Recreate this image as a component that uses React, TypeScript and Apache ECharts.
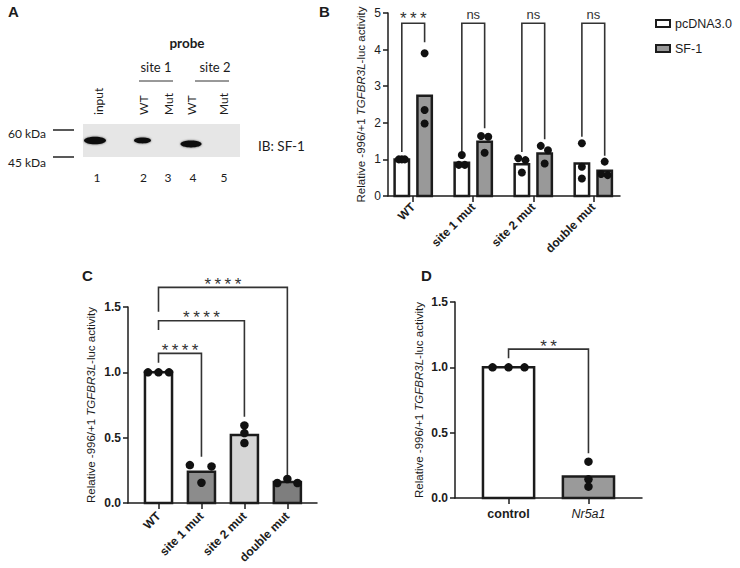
import React, { useEffect, useRef } from 'react';
import * as echarts from 'echarts';

// ---------- Panel B data ----------
const B_CATS = ['WT', 'site 1 mut', 'site 2 mut', 'double mut'];
const B_PC_MEAN = [1.0, 0.91, 0.87, 0.89];
const B_SF_MEAN = [2.74, 1.48, 1.16, 0.69];
const B_PC_PTS = [[1.0, 1.0, 1.0], [1.12, 0.85, 0.85], [1.03, 0.98, 0.64], [1.44, 0.8, 0.48]];
const B_SF_PTS = [[3.9, 2.35, 1.98], [1.64, 1.62, 1.18], [1.37, 1.25, 0.89], [0.94, 0.6, 0.57]];
const B_SIG = ['*\u2009*\u2009*', 'ns', 'ns', 'ns'];
const B_SIG_LEFT = [1.2, 1.2, 1.2, 1.62];
const B_SIG_TOP = [4.72, 4.72, 4.72, 4.72];
const B_SIG_RIGHT = [4.2, 1.85, 1.55, 1.1];
const B_SIG_LABEL = 4.96;

// ---------- Panel C data ----------
const C_CATS = ['WT', 'site 1 mut', 'site 2 mut', 'double mut'];
const C_MEAN = [1.0, 0.24, 0.52, 0.16];
const C_PTS = [[1.0, 1.0, 1.0], [0.29, 0.28, 0.155], [0.594, 0.535, 0.459], [0.153, 0.184, 0.153]];
const C_SIG = ['*\u2009*\u2009*\u2009*', '*\u2009*\u2009*\u2009*', '*\u2009*\u2009*\u2009*'];
const C_SIG_TARGET = [1, 2, 3];
const C_SIG_LEFT = [1.073, 1.324, 1.464];
const C_SIG_TOP = [1.145, 1.395, 1.65];
const C_SIG_RIGHT = [0.354, 0.66, 0.189];
const C_SIG_LABEL = [1.2, 1.452, 1.705];

// ---------- Panel D data ----------
const D_CATS = ['control', 'Nr5a1'];
const D_MEAN = [1.0, 0.165];
const D_PTS = [[1.0, 1.0, 1.0], [0.278, 0.143, 0.087]];
const D_SIG = '*\u2009*';
const D_SIG_LEFT = 1.07;
const D_SIG_TOP = 1.139;
const D_SIG_RIGHT = 0.342;
const D_SIG_LABEL = 1.19;

// ---------- layout / style (not data) ----------
const B_OFF = 0.19;
const B_PC_JIT = [[-0.05, 0, 0.05], [0, -0.05, 0.05], [-0.06, 0.06, 0], [0, 0, 0]];
const B_SF_JIT = [[0, 0, 0], [-0.06, 0.06, 0], [-0.065, 0.055, 0], [0, -0.06, 0.05]];
const C_JIT = [[-0.245, 0, 0.245], [-0.27, 0.235, 0], [0, 0, 0], [-0.235, 0, 0.235]];
const D_JIT = [[-0.2, 0, 0.2], [0, 0, 0]];
const C_COLORS = ['#ffffff', '#8c8c8c', '#d6d6d6', '#7e7e7e'];
const D_COLORS = ['#ffffff', '#9a9a9a'];
const FF = '"Liberation Sans", Arial, sans-serif';
const FA = 'Lato, "Open Sans", sans-serif';
const INK = '#1c1c1c';

function barRender(widthUnits: number, colorOf: (i: number) => string) {
  return (params: any, api: any) => {
    const x = api.value(0);
    const y = api.value(1);
    const p = api.coord([x, y]);
    const b = api.coord([x, 0]);
    const w = api.size([widthUnits, 0])[0];
    return {
      type: 'rect',
      shape: { x: p[0] - w / 2, y: p[1], width: w, height: b[1] - p[1] },
      style: { fill: colorOf(params.dataIndex), stroke: INK, lineWidth: 2.5 },
    };
  };
}

function bracketRender(texts: string[]) {
  return (params: any, api: any) => {
    const xl = api.value(0), xr = api.value(1);
    const yl = api.value(2), yt = api.value(3), yr = api.value(4), yLab = api.value(5);
    const a = api.coord([xl, yl]);
    const b = api.coord([xl, yt]);
    const c = api.coord([xr, yt]);
    const d = api.coord([xr, yr]);
    const t = api.coord([(xl + xr) / 2, yLab]);
    const txt = texts[params.dataIndex];
    const isStar = txt.indexOf('*') >= 0;
    return {
      type: 'group',
      children: [
        { type: 'polyline', shape: { points: [a, b, c, d] }, style: { stroke: '#333', lineWidth: 1.6, fill: null } },
        {
          type: 'text', x: t[0], y: t[1] + (isStar ? 4 : 0),
          style: { text: txt, align: 'center', verticalAlign: 'middle', fontSize: isStar ? 17 : 13, fontFamily: FF, fill: '#333' },
        },
      ],
    };
  };
}

const yName = (size: number) => ({
  name: '{n|Relative -996/+1 }{i|TGFBR3L}{n|-luc activity}',
  nameLocation: 'middle',
  nameRotate: 90,
  nameTextStyle: {
    rich: {
      n: { fontSize: size, color: INK, fontFamily: FF },
      i: { fontSize: size, color: INK, fontFamily: FF, fontStyle: 'italic' },
    },
  },
});

const axisLineStyle = { color: INK, width: 1.5 };

function buildOption() {
  const bPcBars = B_PC_MEAN.map((v, i) => [i - B_OFF, v]);
  const bSfBars = B_SF_MEAN.map((v, i) => [i + B_OFF, v]);
  const bPts: number[][] = [];
  B_PC_PTS.forEach((arr, i) => arr.forEach((v, k) => bPts.push([i - B_OFF + B_PC_JIT[i][k], v])));
  B_SF_PTS.forEach((arr, i) => arr.forEach((v, k) => bPts.push([i + B_OFF + B_SF_JIT[i][k], v])));
  const bBr = B_CATS.map((_, i) => [i - B_OFF, i + B_OFF, B_SIG_LEFT[i], B_SIG_TOP[i], B_SIG_RIGHT[i], B_SIG_LABEL]);

  const cBars = C_MEAN.map((v, i) => [i, v]);
  const cPts: number[][] = [];
  C_PTS.forEach((arr, i) => arr.forEach((v, k) => cPts.push([i + C_JIT[i][k], v])));
  const cBr = C_SIG_TARGET.map((t, j) => [0, t, C_SIG_LEFT[j], C_SIG_TOP[j], C_SIG_RIGHT[j], C_SIG_LABEL[j]]);

  const dBars = D_MEAN.map((v, i) => [i, v]);
  const dPts: number[][] = [];
  D_PTS.forEach((arr, i) => arr.forEach((v, k) => dPts.push([i + D_JIT[i][k], v])));
  const dBr = [[0, 1, D_SIG_LEFT, D_SIG_TOP, D_SIG_RIGHT, D_SIG_LABEL]];

  const xCommon = (idx: number, min: number, max: number, cats: string[], fontSize: number, rotate: number, margin: number, rich?: any, fmt?: any) => ({
    gridIndex: idx,
    type: 'value',
    min, max,
    axisLine: { show: true, onZero: false, lineStyle: axisLineStyle },
    axisTick: { show: true, length: 6, customValues: cats.map((_, i) => i), lineStyle: axisLineStyle },
    axisLabel: {
      customValues: cats.map((_, i) => i),
      formatter: fmt || ((v: number) => cats[Math.round(v)]),
      rotate,
      fontSize,
      fontWeight: 'bold',
      color: INK,
      fontFamily: FF,
      margin,
      rich,
    },
    splitLine: { show: false },
  });

  const yCommon = (idx: number, max: number, interval: number, bold: boolean, gap: number, fmt: any) => ({
    gridIndex: idx,
    type: 'value',
    min: 0, max, interval,
    axisLine: { show: true, onZero: false, lineStyle: axisLineStyle },
    axisTick: { show: true, length: 5, lineStyle: axisLineStyle },
    axisLabel: { fontSize: 12, fontWeight: bold ? 'bold' : 'normal', color: INK, fontFamily: FF, margin: 7, formatter: fmt },
    splitLine: { show: false },
    nameGap: gap,
    ...yName(11.5),
  });

  const graphic: any[] = [
    // panel letters
    { type: 'text', x: 8, y: 11, style: { text: 'A', fontSize: 15, fontWeight: 'bold', fontFamily: FF, fill: INK, verticalAlign: 'middle' } },
    { type: 'text', x: 319, y: 11, style: { text: 'B', fontSize: 15, fontWeight: 'bold', fontFamily: FF, fill: INK, verticalAlign: 'middle' } },
    { type: 'text', x: 82, y: 275, style: { text: 'C', fontSize: 15, fontWeight: 'bold', fontFamily: FF, fill: INK, verticalAlign: 'middle' } },
    { type: 'text', x: 421, y: 275, style: { text: 'D', fontSize: 15, fontWeight: 'bold', fontFamily: FF, fill: INK, verticalAlign: 'middle' } },
    // panel A: western blot
    { type: 'text', x: 187, y: 43, style: { text: 'probe', fontSize: 13.5, fontWeight: 'bold', fontFamily: FA, fill: INK, align: 'center', verticalAlign: 'middle' } },
    { type: 'text', x: 156, y: 67, style: { text: 'site 1', fontSize: 13, fontFamily: FA, fill: INK, align: 'center', verticalAlign: 'middle' } },
    { type: 'text', x: 215, y: 67, style: { text: 'site 2', fontSize: 13, fontFamily: FA, fill: INK, align: 'center', verticalAlign: 'middle' } },
    { type: 'line', shape: { x1: 139, y1: 81, x2: 173, y2: 81 }, style: { stroke: '#333', lineWidth: 1 } },
    { type: 'line', shape: { x1: 195, y1: 81, x2: 229, y2: 81 }, style: { stroke: '#333', lineWidth: 1 } },
    ...[['input', 98], ['WT', 143.5], ['Mut', 168.5], ['WT', 191], ['Mut', 223]].map(([t, x]) => ({
      type: 'text', x: x as number, y: 115, rotation: Math.PI / 2,
      style: { text: t as string, fontSize: 12, fontFamily: FA, fill: INK, align: 'left', verticalAlign: 'middle' },
    })),
    { type: 'rect', shape: { x: 83, y: 124, width: 157, height: 33 }, style: { fill: '#e6e6e6' } },
    { type: 'ellipse', shape: { cx: 95, cy: 140.5, rx: 11, ry: 3.8 }, style: { fill: '#0e0e0e', shadowBlur: 2, shadowColor: 'rgba(0,0,0,0.6)' } },
    { type: 'ellipse', shape: { cx: 142.5, cy: 140.5, rx: 8.5, ry: 2.9 }, style: { fill: '#111', shadowBlur: 2, shadowColor: 'rgba(0,0,0,0.6)' } },
    { type: 'ellipse', shape: { cx: 191, cy: 144, rx: 10.5, ry: 3.4 }, style: { fill: '#0e0e0e', shadowBlur: 2, shadowColor: 'rgba(0,0,0,0.6)' } },
    { type: 'line', shape: { x1: 53, y1: 130, x2: 74, y2: 130 }, style: { stroke: '#222', lineWidth: 1.5 } },
    { type: 'line', shape: { x1: 53, y1: 157, x2: 74, y2: 157 }, style: { stroke: '#222', lineWidth: 1.5 } },
    { type: 'text', x: 8, y: 133, style: { text: '60 kDa', fontSize: 12, fontFamily: FA, fill: INK, verticalAlign: 'middle' } },
    { type: 'text', x: 8, y: 162, style: { text: '45 kDa', fontSize: 12, fontFamily: FA, fill: INK, verticalAlign: 'middle' } },
    { type: 'text', x: 258, y: 146, style: { text: 'IB: SF-1', fontSize: 13.5, fontFamily: FA, fill: INK, verticalAlign: 'middle' } },
    ...[['1', 97], ['2', 143.5], ['3', 168], ['4', 193], ['5', 224]].map(([t, x]) => ({
      type: 'text', x: x as number, y: 177,
      style: { text: t as string, fontSize: 12, fontFamily: FA, fill: INK, align: 'center', verticalAlign: 'middle' },
    })),
  ];

  return {
    animation: false,
    backgroundColor: '#ffffff',
    textStyle: { fontFamily: FF },
    grid: [
      { left: 388, top: 13, width: 232, height: 183 },
      { left: 128, top: 307, width: 189, height: 196 },
      { left: 455, top: 302, width: 187, height: 196 },
    ],
    legend: {
      orient: 'vertical',
      left: 655,
      top: 17,
      padding: 0,
      itemWidth: 14,
      itemHeight: 7,
      itemGap: 12,
      selectedMode: false,
      textStyle: { fontSize: 12.5, color: INK, fontFamily: FF },
      data: [
        { name: 'pcDNA3.0', icon: 'rect', itemStyle: { color: '#ffffff', borderColor: INK, borderWidth: 2 } },
        { name: 'SF-1', icon: 'rect', itemStyle: { color: '#999999', borderColor: INK, borderWidth: 2 } },
      ],
    },
    xAxis: [
      xCommon(0, -0.42, 3.445, B_CATS, 12, 45, 9),
      xCommon(1, -0.71, 3.69, C_CATS, 12, 45, 11),
      xCommon(2, -0.67, 1.67, D_CATS, 12, 0, 9,
        {
          b: { fontSize: 12.5, fontWeight: 'bold', color: INK, fontFamily: FF },
          i: { fontSize: 12.5, fontWeight: 'normal', fontStyle: 'italic', color: INK, fontFamily: FF },
        },
        (v: number) => (Math.round(v) === 0 ? '{b|' + D_CATS[0] + '}' : '{i|' + D_CATS[1] + '}')),
    ],
    yAxis: [
      yCommon(0, 5, 1, false, 21, (v: number) => String(v)),
      yCommon(1, 1.5, 0.5, true, 31, (v: number) => v.toFixed(1)),
      yCommon(2, 1.5, 0.5, true, 30, (v: number) => v.toFixed(1)),
    ],
    series: [
      { type: 'custom', name: 'pcDNA3.0', xAxisIndex: 0, yAxisIndex: 0, data: bPcBars, encode: { x: 0, y: 1 }, clip: false, renderItem: barRender(0.24, () => '#ffffff') },
      { type: 'custom', name: 'SF-1', xAxisIndex: 0, yAxisIndex: 0, data: bSfBars, encode: { x: 0, y: 1 }, clip: false, renderItem: barRender(0.24, () => '#999999') },
      { type: 'scatter', name: 'B points', xAxisIndex: 0, yAxisIndex: 0, data: bPts, symbolSize: 8, itemStyle: { color: '#111', opacity: 1 }, z: 5 },
      { type: 'custom', name: 'B sig', xAxisIndex: 0, yAxisIndex: 0, data: bBr, encode: { x: [0, 1], y: [2, 3, 4, 5] }, clip: false, renderItem: bracketRender(B_SIG) },

      { type: 'custom', name: 'C bars', xAxisIndex: 1, yAxisIndex: 1, data: cBars, encode: { x: 0, y: 1 }, clip: false, renderItem: barRender(0.63, (i) => C_COLORS[i]) },
      { type: 'scatter', name: 'C points', xAxisIndex: 1, yAxisIndex: 1, data: cPts, symbolSize: 8.5, itemStyle: { color: '#111', opacity: 1 }, z: 5 },
      { type: 'custom', name: 'C sig', xAxisIndex: 1, yAxisIndex: 1, data: cBr, encode: { x: [0, 1], y: [2, 3, 4, 5] }, clip: false, renderItem: bracketRender(C_SIG) },

      { type: 'custom', name: 'D bars', xAxisIndex: 2, yAxisIndex: 2, data: dBars, encode: { x: 0, y: 1 }, clip: false, renderItem: barRender(0.64, (i) => D_COLORS[i]) },
      { type: 'scatter', name: 'D points', xAxisIndex: 2, yAxisIndex: 2, data: dPts, symbolSize: 8.5, itemStyle: { color: '#111', opacity: 1 }, z: 5 },
      { type: 'custom', name: 'D sig', xAxisIndex: 2, yAxisIndex: 2, data: dBr, encode: { x: [0, 1], y: [2, 3, 4, 5] }, clip: false, renderItem: bracketRender([D_SIG]) },
    ],
    graphic,
  };
}

export default function App() {
  const ref = useRef<HTMLDivElement>(null);
  useEffect(() => {
    if (!ref.current) return;
    const chart = echarts.init(ref.current, null, { renderer: 'svg', width: 740, height: 568 });
    chart.setOption(buildOption() as any);
    return () => chart.dispose();
  }, []);
  return (
    <div
      ref={ref}
      style={{ position: 'fixed', left: 0, top: 0, width: 740, height: 568, background: '#ffffff' }}
    />
  );
}
